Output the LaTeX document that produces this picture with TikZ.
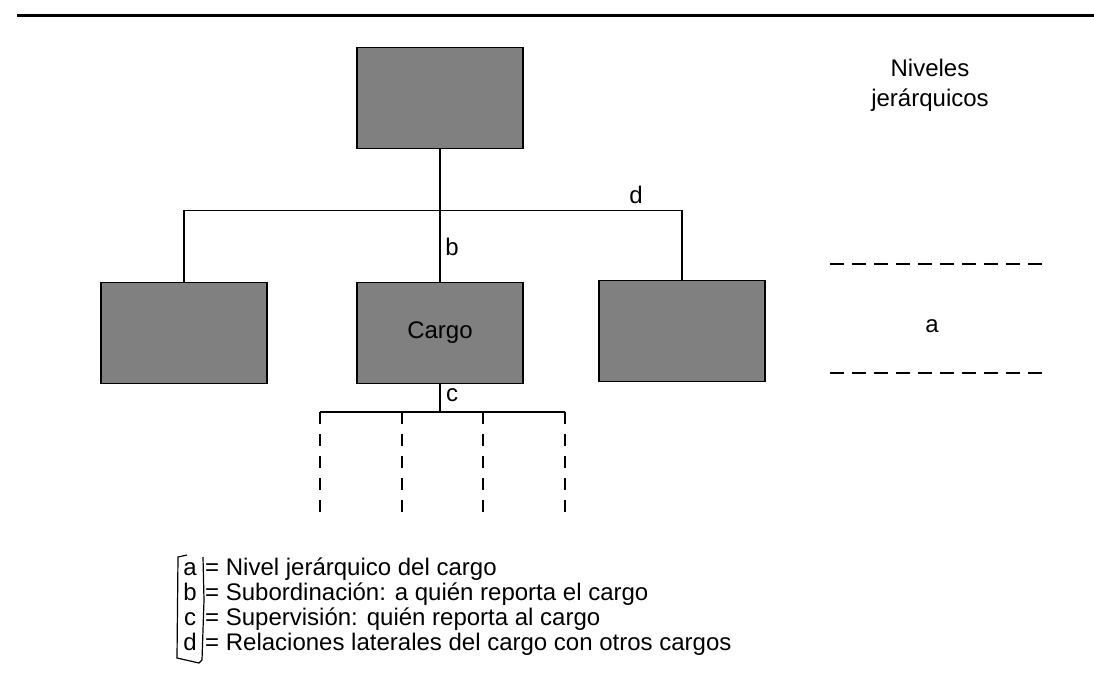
\documentclass[tikz,border=0pt]{standalone}
\usepackage{fontspec}
\setmainfont{Liberation Sans}
\begin{document}
\begin{tikzpicture}[x=1pt,y=-1pt,
  box/.style={draw=black, line width=1.7pt, fill=black!50, minimum width=166pt, minimum height=101pt, inner sep=0pt},
  conn/.style={line width=1.4pt},
  subln/.style={line width=1.4pt, dash pattern=on 12pt off 10pt},
  lvl/.style={line width=1.4pt, dash pattern=on 14pt off 8pt},
  lab/.style={font=\fontsize{24}{30}\selectfont, inner sep=0pt},
]
\useasboundingbox (0,0) rectangle (1094,677);
\fill[white] (0,0) rectangle (1094,677);
% top rule
\coordinate (r1) at (17,16);
\coordinate (r2) at (1094,16);
\draw[line width=3pt] (r1) -- (r2);

% boxes
\node[box] (top) at (440,98) {};
\node[box] (left) at (184,333) {};
\node[box, font=\fontsize{24}{30}\selectfont] (cargo) at (440,333) {Cargo};
\node[box] (right) at (682,331) {};

% connectors
\draw[conn] (top.south) -- (cargo.north);
\draw[conn] (left.north) -- ++(0,-71) -| (right.north);
\node[lab] (lb) at (452,247) {b};
\node[lab] (ld) at (636,195) {d};

% subordinates
\coordinate (sj) at (440,412);
\coordinate (s1) at (320,412);
\coordinate (s2) at (402,412);
\coordinate (s3) at (483,412);
\coordinate (s4) at (565,412);
\coordinate (e1) at (320,514);
\coordinate (e2) at (402,514);
\coordinate (e3) at (483,514);
\coordinate (e4) at (565,514);
\draw[conn] (cargo.south) -- (sj);
\draw[conn] (s1) -- (s4);
\foreach \i in {1,2,3,4} \draw[subln] (s\i) -- (e\i);
\node[lab] (lc) at (452,395) {c};

% levels
\node[lab, align=center] (niv) at (930,85) {Niveles\\jerárquicos};
\coordinate (l1a) at (830,264);
\coordinate (l1b) at (1045,264);
\coordinate (l2a) at (830,373);
\coordinate (l2b) at (1045,373);
\draw[lvl] (l1a) -- (l1b);
\draw[lvl] (l2a) -- (l2b);
\node[lab] (la) at (932,326) {a};

% legend
\foreach \k/\t/\yy in {a/Nivel jerárquico del cargo/575,
                     b/Subordinación: a quién reporta el cargo/600,
                     c/Supervisión: quién reporta al cargo/625,
                     d/Relaciones laterales del cargo con otros cargos/650}{
  \node[lab, anchor=base] (k\k) at (190,\yy) {\k};
  \node[lab, anchor=base west] (t\k) at (205,\yy) {= \t};
}
\draw[line width=1.2pt] (187,555) -- (178,557) -- (177,658) -- (199,663) -- (202,660);
\draw[line width=1.2pt] (203,557) -- (204,600) -- (202,660);
\end{tikzpicture}
\end{document}
